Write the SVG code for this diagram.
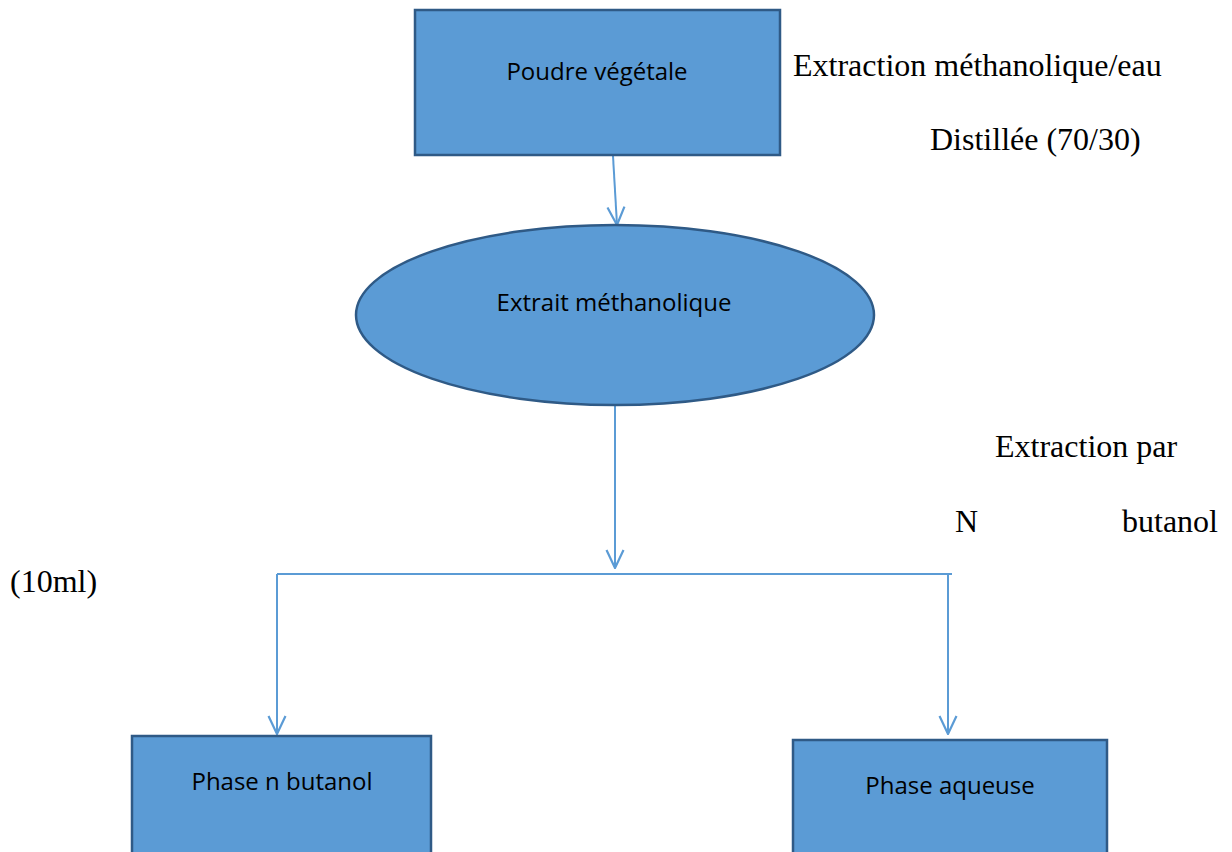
<svg xmlns="http://www.w3.org/2000/svg" width="1232" height="852" viewBox="0 0 1232 852">
<style>
.box{fill:#5B9BD5;stroke:#2F5A86;stroke-width:2.5}
.lbl{font-family:"Open Sans","Noto Sans",sans-serif;font-size:24px;fill:#000;text-anchor:middle}
.note{font-family:"Liberation Serif","Times New Roman",serif;font-size:32px;fill:#000}
.con{stroke:#5B9BD5;stroke-width:2;fill:none}
</style>
<defs>
<marker id="ah" viewBox="0 0 20 20" refX="19" refY="10" markerWidth="20" markerHeight="20" markerUnits="userSpaceOnUse" orient="auto">
<path d="M1,1.5 L19,10 L1,18.5" fill="none" stroke="#5B9BD5" stroke-width="2.2"/>
</marker>
</defs>
<rect width="1232" height="852" fill="#fff"/>
<g id="connectors">
<line class="con" x1="613" y1="156" x2="617" y2="225" marker-end="url(#ah)"/>
<line class="con" x1="615" y1="405" x2="615" y2="568" marker-end="url(#ah)"/>
<line class="con" x1="277" y1="574" x2="952" y2="574"/>
<line class="con" x1="277" y1="574" x2="277" y2="734" marker-end="url(#ah)"/>
<line class="con" x1="948" y1="574" x2="948" y2="734" marker-end="url(#ah)"/>
</g>
<g id="poudre">
<rect class="box" x="415" y="10" width="365" height="145"/>
<text class="lbl" x="597" y="80">Poudre végétale</text>
</g>
<g id="extrait">
<ellipse class="box" cx="615" cy="315" rx="259" ry="90"/>
<text class="lbl" x="614" y="311">Extrait méthanolique</text>
</g>
<g id="butanol">
<rect class="box" x="132" y="736" width="299" height="130"/>
<text class="lbl" x="282" y="790">Phase n butanol</text>
</g>
<g id="aqueuse">
<rect class="box" x="793" y="740" width="314" height="130"/>
<text class="lbl" x="950" y="794">Phase aqueuse</text>
</g>
<g id="notes">
<text class="note" x="793" y="76">Extraction méthanolique/eau</text>
<text class="note" x="930" y="150">Distillée (70/30)</text>
<text class="note" x="995" y="457">Extraction par</text>
<text class="note" x="955" y="532">N</text>
<text class="note" x="1218" y="532" text-anchor="end">butanol</text>
<text class="note" x="10" y="592">(10ml)</text>
</g>
</svg>
